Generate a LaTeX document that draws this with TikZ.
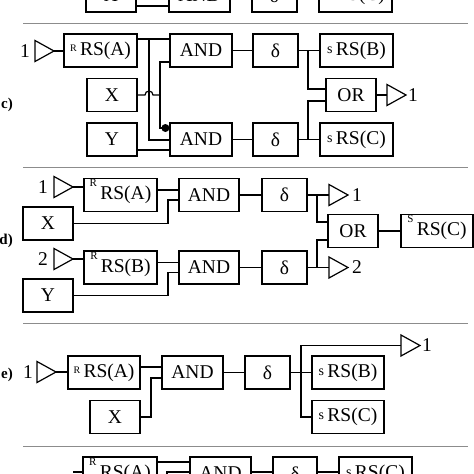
\documentclass[tikz,border=0pt]{standalone}
\usepackage{fontspec}
\setmainfont{Liberation Serif}
\usetikzlibrary{calc}
\newcommand{\lowR}{\raisebox{4pt}[0pt][0pt]{\fontsize{10}{10}\selectfont R}\,}
\newcommand{\hiR}{\raisebox{13pt}[0pt][0pt]{\fontsize{11}{11}\selectfont R}\,}
\newcommand{\lows}{\raisebox{2pt}[0pt][0pt]{\fontsize{14}{14}\selectfont s}\,}
\newcommand{\hiS}{\raisebox{13pt}[0pt][0pt]{\fontsize{11}{11}\selectfont S}\,}
\begin{document}
\begin{tikzpicture}[x=1pt,y=-1pt,
  box/.style={draw, line width=1.2pt, rectangle, inner sep=0pt, minimum height=33pt, font=\fontsize{19.5}{20}\selectfont},
  wire/.style={line width=1.2pt},
  sep/.style={draw=black!45, line width=1pt},
  lbl/.style={font=\fontsize{19.5}{20}\selectfont, inner sep=0pt},
  sec/.style={font=\bfseries\fontsize{15}{15}\selectfont, inner sep=0pt, anchor=east},
  dot/.style={circle, fill, inner sep=0pt, minimum size=8pt},
  buf/.pic={\draw[wire] (0,-10.5) -- (19,0) -- (0,10.5) -- cycle;
            \coordinate (-in) at (0,0); \coordinate (-out) at (19,0);}
]
\useasboundingbox (0,0) rectangle (474,474);

% ---- top strip (cut off) ----
\node[box, minimum width=50pt] (tX) at (111,-4.5) {X};
\node[box, minimum width=61pt] (tAND) at (199.5,-4.5) {AND};
\node[box, minimum width=45pt] (tD) at (274.5,-4.5) {δ};
\node[box, minimum width=73pt] (tRS) at (355.5,-4.5) {\lows RS(C)};
\draw[wire] ($(tX.east)+(0,10.5)$) -- ($(tAND.west)+(0,10.5)$);

\draw[sep] (23,23) -- (468,23);

% ---- c) ----
\pic (ct1) at (35,51) {buf};
\node[lbl] (c1) at (25,51) {1};
\node[box, minimum width=73pt] (cRSA) at (100.5,50.5) {\lowR RS(A)};
\node[box, minimum width=62pt] (cAND1) at (201,50.5) {AND};
\node[box, minimum width=50pt] (cX) at (112,95) {X};
\node[box, minimum width=50pt] (cY) at (112,139.5) {Y};
\node[box, minimum width=62pt] (cAND2) at (201,139.5) {AND};
\node[box, minimum width=45pt] (cD1) at (275.5,50.5) {δ};
\node[box, minimum width=45pt] (cD2) at (275.5,139.5) {δ};
\node[box, minimum width=73pt] (cRSB) at (356.5,50.5) {\lows RS(B)};
\node[box, minimum width=50pt] (cOR) at (351,95) {OR};
\node[box, minimum width=73pt] (cRSC) at (356.5,139.5) {\lows RS(C)};
\pic (ct2) at (387,95) {buf};
\node[lbl] (c2) at (413,95) {1};
\node[sec] (cl) at (13,105) {c)};

\draw[wire] (ct1-out) -- (cRSA.west |- ct1-out);
\draw[wire] ($(cRSA.east)+(0,-11.5)$) -- ($(cAND1.west)+(0,-11.5)$);
\coordinate (cb) at (149,39);
\draw[wire] (cb) |- ($(cAND2.west)+(0,0.5)$);
\coordinate (cj) at (160,95);
\draw[wire] (cX.east) -- (145,95) arc[start angle=180,end angle=360,radius=4] -- (cj);
\draw[wire] ($(cAND1.west)+(0,11.5)$) -| (cj) |- ($(cAND2.west)+(0,-11.5)$);
\node[dot] (cdot) at ($(cAND2.west)+(-4,-11.5)$) {};
\draw[wire] ($(cY.east)+(0,10.5)$) -- ($(cAND2.west)+(0,10.5)$);
\draw[wire] (cAND1) -- (cD1);
\draw[wire] (cAND2) -- (cD2);
\coordinate (cs1) at (308,50.5);
\draw[wire] (cD1.east) -- (cRSB.west);
\draw[wire] (cs1) |- ($(cOR.west)+(0,-6)$);
\coordinate (cs2) at (308,139.5);
\draw[wire] (cD2.east) -- (cRSC.west);
\draw[wire] (cs2) |- ($(cOR.west)+(0,6)$);
\draw[wire] (cOR.east) -- (ct2-in);

\draw[sep] (23,167) -- (468,167);

% ---- d) ----
\pic (dt1) at (54,187) {buf};
\node[lbl] (d1) at (43,187) {1};
\node[box, minimum width=73pt] (dRSA) at (120.5,195) {\hiR RS(A)};
\node[box, minimum width=60pt] (dAND1) at (209,195) {AND};
\node[box, minimum width=50pt] (dX) at (48,223.5) {X};
\draw[wire] (dt1-out) -- (dRSA.west |- dt1-out);
\draw[wire] ($(dRSA.east)+(0,-5)$) -- ($(dAND1.west)+(0,-5)$);
\coordinate (dj1) at (168,223.5);
\draw[wire] (dX.east) -- (dj1) |- ($(dAND1.west)+(0,5)$);

\pic (dt2) at (54,259) {buf};
\node[lbl] (d2) at (43,259) {2};
\node[box, minimum width=73pt] (dRSB) at (120.5,267.5) {\hiR RS(B)};
\node[box, minimum width=60pt] (dAND2) at (209,267.5) {AND};
\node[box, minimum width=50pt] (dY) at (48,295.5) {Y};
\draw[wire] (dt2-out) -- (dRSB.west |- dt2-out);
\draw[wire] ($(dRSB.east)+(0,-5)$) -- ($(dAND2.west)+(0,-5)$);
\coordinate (dj2) at (168,295.5);
\draw[wire] (dY.east) -- (dj2) |- ($(dAND2.west)+(0,5)$);

\node[box, minimum width=45pt] (dD1) at (284.5,195) {δ};
\node[box, minimum width=45pt] (dD2) at (284.5,267.5) {δ};
\draw[wire] (dAND1) -- (dD1);
\draw[wire] (dAND2) -- (dD2);
\pic (dt3) at (329,195) {buf};
\node[lbl] (d3) at (357,195) {1};
\pic (dt4) at (329,267.5) {buf};
\node[lbl] (d4) at (357,267.5) {2};
\node[box, minimum width=50pt] (dOR) at (353,231) {OR};
\node[box, minimum width=72pt] (dRSC) at (437,231) {\hiS RS(C)};
\draw[wire] (dD1.east) -- (dt3-in);
\coordinate (ds1) at (317,195);
\draw[wire] (ds1) |- ($(dOR.west)+(0,-9)$);
\draw[wire] (dD2.east) -- (dt4-in);
\coordinate (ds2) at (317,267.5);
\draw[wire] (ds2) |- ($(dOR.west)+(0,9)$);
\draw[wire] (dOR) -- (dRSC);
\node[sec] (dl) at (13,241) {d)};

\draw[sep] (23,323) -- (468,323);

% ---- e) ----
\pic (et1) at (37,372) {buf};
\node[lbl] (e1) at (28,372) {1};
\node[box, minimum width=72pt] (eRSA) at (104,372.5) {\lowR RS(A)};
\node[box, minimum width=61pt] (eAND) at (192.5,372.5) {AND};
\node[box, minimum width=50pt] (eX) at (115,417) {X};
\draw[wire] (et1-out) -- (eRSA.west |- et1-out);
\draw[wire] ($(eRSA.east)+(0,-5.5)$) -- ($(eAND.west)+(0,-5.5)$);
\coordinate (ej) at (151,417);
\draw[wire] (eX.east) -- (ej) |- ($(eAND.west)+(0,5.5)$);
\node[box, minimum width=45pt] (eD) at (267.5,372.5) {δ};
\draw[wire] (eAND) -- (eD);
\node[box, minimum width=72pt] (eRSB) at (348,372.5) {\lows RS(B)};
\node[box, minimum width=72pt] (eRSC) at (348,417) {\lows RS(C)};
\draw[wire] (eD) -- (eRSB);
\pic (et2) at (401,345.5) {buf};
\node[lbl] (e2) at (427,345.5) {1};
\coordinate (es) at (301,417);
\draw[wire] (et2-in) -| (es) -- (eRSC.west);
\node[sec] (el) at (13,375) {e)};

\draw[sep] (23,446) -- (468,446);

% ---- bottom strip (cut off) ----
\node[box, minimum width=74pt] (fRSA) at (120,473.5) {\hiR RS(A)};
\node[box, minimum width=61pt] (fAND) at (220.5,473.5) {AND};
\node[box, minimum width=44pt] (fD) at (295,473.5) {δ};
\node[box, minimum width=73pt] (fRSC) at (375.5,473.5) {\lows RS(C)};
\draw[wire] ($(fRSA.east)+(0,-11.5)$) -- ($(fAND.west)+(0,-11.5)$);
\coordinate (fx) at (167,490);
\draw[wire] (fx) |- ($(fAND.west)+(0,-1.5)$);
\coordinate (fin) at (73,472);
\draw[wire] (fin) -- ($(fRSA.west)+(0,-1.5)$);
\draw[wire] ($(fAND.east)+(0,-1.5)$) -- ($(fD.west)+(0,-1.5)$);
\draw[wire] ($(fD.east)+(0,-1.5)$) -- ($(fRSC.west)+(0,-1.5)$);
\end{tikzpicture}
\end{document}
